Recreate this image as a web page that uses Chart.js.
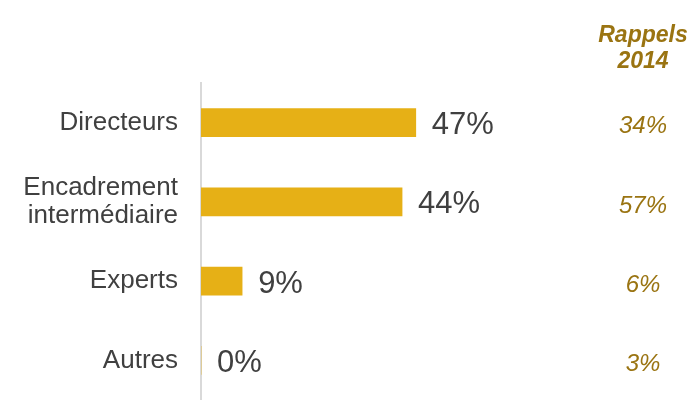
<!DOCTYPE html>
<html>
<head>
<meta charset="utf-8">
<script src="https://cdn.jsdelivr.net/npm/chart.js@4"></script>
<style>
  html, body { margin: 0; padding: 0; background: #fff; }
  #wrap { width: 698px; height: 400px; position: relative; }
</style>
</head>
<body>
<div id="wrap"><canvas id="chart"></canvas></div>
<script>
// Data
const categories = ['Directeurs', ['Encadrement', 'intermédiaire'], 'Experts', 'Autres'];
const values2015 = [47, 44, 9, 0];
const rappels2014 = [34, 57, 6, 3];
const rappelsTitle = ['Rappels', '2014'];

const barColor = '#e6b016';
const textColor = '#404040';
const goldText = '#9a7412';

// Draw value labels next to bars + the "Rappels 2014" column
const labelsPlugin = {
  id: 'labelsPlugin',
  afterDatasetsDraw(chart) {
    const ctx = chart.ctx;
    const meta = chart.getDatasetMeta(0);
    const yScale = chart.scales.y;

    ctx.save();
    ctx.font = '31px "Liberation Sans", Arial, sans-serif';
    ctx.fillStyle = textColor;
    ctx.textAlign = 'left';
    ctx.textBaseline = 'middle';
    meta.data.forEach((bar, i) => {
      ctx.fillText(values2015[i] + '%', bar.x + 16, bar.y + 3);
    });

    // Rappels column
    const colX = 643;
    ctx.fillStyle = goldText;
    ctx.textAlign = 'center';
    ctx.font = 'italic bold 23px "Liberation Sans", Arial, sans-serif';
    ctx.fillText(rappelsTitle[0], colX, 36);
    ctx.fillText(rappelsTitle[1], colX, 62);

    ctx.font = 'italic 24px "Liberation Sans", Arial, sans-serif';
    rappels2014.forEach((v, i) => {
      ctx.fillText(v + '%', colX, yScale.getPixelForValue(i) + 4);
    });
    ctx.restore();
  }
};

const ctx = document.getElementById('chart').getContext('2d');
const chart = new Chart(ctx, {
  type: 'bar',
  data: {
    labels: categories,
    datasets: [{
      data: values2015,
      backgroundColor: barColor,
      barThickness: 28
    }]
  },
  options: {
    indexAxis: 'y',
    responsive: true,
    maintainAspectRatio: false,
    animation: false,
    layout: { autoPadding: false, padding: { top: 83, bottom: 0, left: 0, right: 40 } },
    plugins: {
      legend: { display: false },
      tooltip: { enabled: false }
    },
    scales: {
      x: {
        display: false,
        min: 0,
        max: 100
      },
      y: {
        grid: { display: false, drawTicks: false },
        border: { display: true, color: '#d9d9d9', width: 2 },
        ticks: {
          color: textColor,
          padding: 23,
          font: { family: '"Liberation Sans", Arial, sans-serif', size: 26, lineHeight: 1.05 }
        },
        afterFit(scale) {
          scale.width = 201;
          scale.paddingTop = 0;
          scale.paddingBottom = 0;
        }
      }
    }
  },
  plugins: [labelsPlugin]
});
</script>
</body>
</html>
